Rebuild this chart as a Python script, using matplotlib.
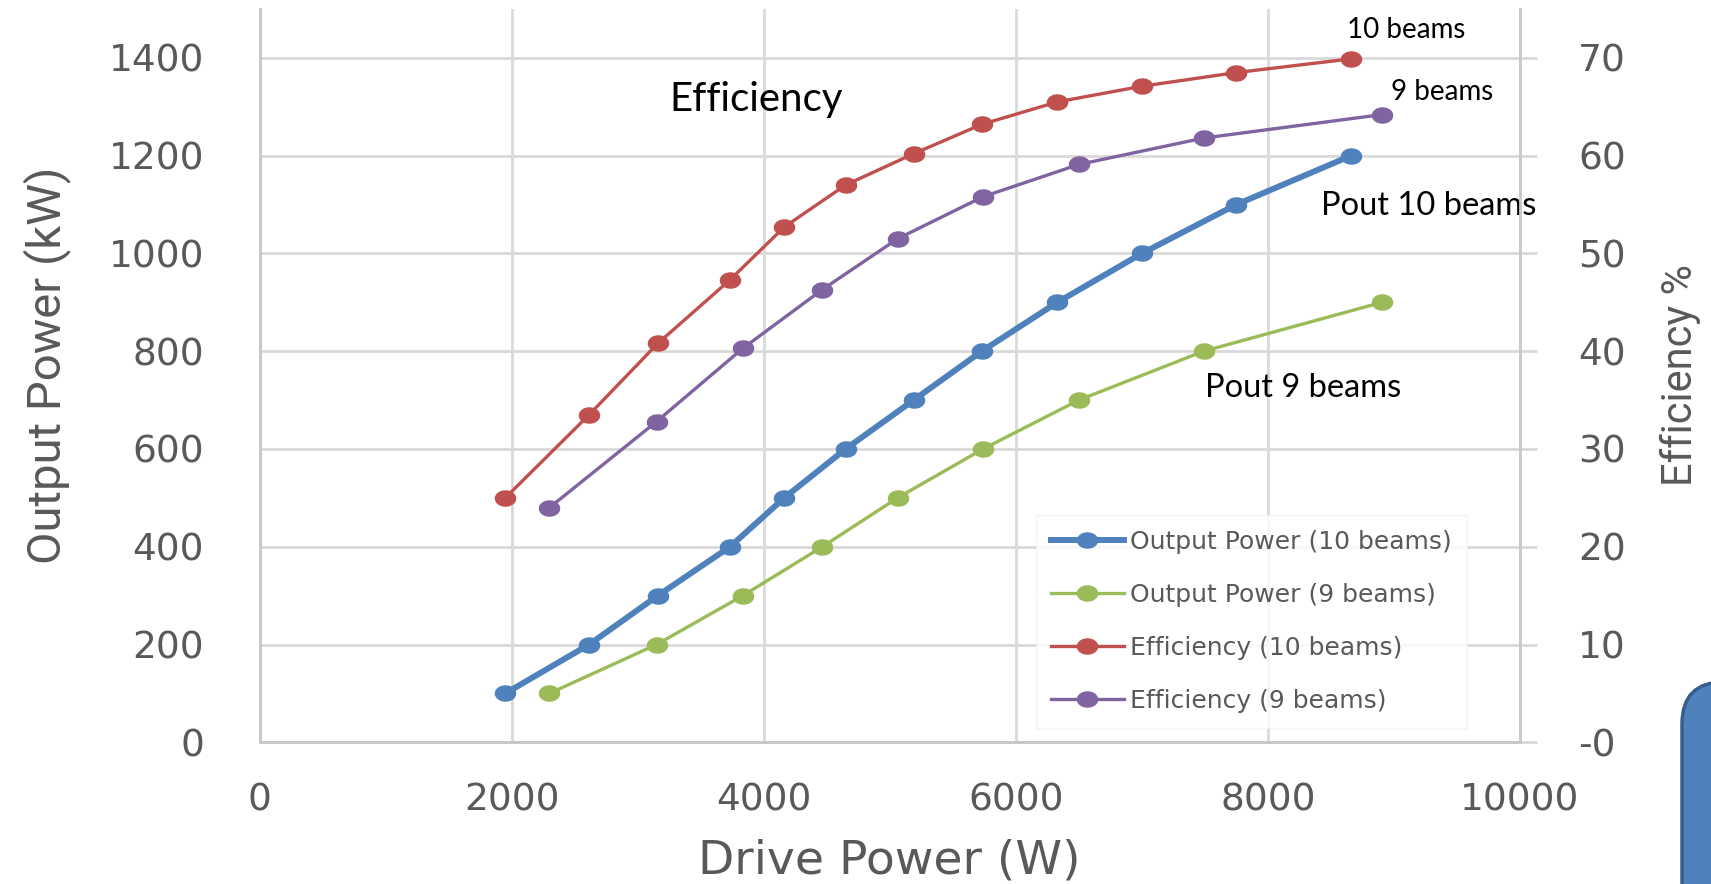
import numpy as np
import matplotlib
matplotlib.use("Agg")
import matplotlib.pyplot as plt
from matplotlib.path import Path
from matplotlib.patches import FancyBboxPatch
from matplotlib.transforms import IdentityTransform

# 测量数据: 驱动功率 (W), 输出功率 (kW), 效率 (%)
drive_10 = [1950, 2615, 3160, 3733, 4163, 4650, 5190, 5730, 6330, 7000, 7750, 8660]
pout_10 = [100, 200, 300, 400, 500, 600, 700, 800, 900, 1000, 1100, 1200]
eff_10 = [25.0, 33.5, 40.8, 47.3, 52.7, 57.0, 60.2, 63.2, 65.5, 67.1, 68.5, 69.9]

drive_9 = [2300, 3150, 3835, 4465, 5062, 5740, 6500, 7490, 8905]
pout_9 = [100, 200, 300, 400, 500, 600, 700, 800, 900]
eff_9 = [24.0, 32.8, 40.3, 46.3, 51.5, 55.8, 59.1, 61.8, 64.2]

x_ticks = [0, 2000, 4000, 6000, 8000, 10000]
pout_ticks = [0, 200, 400, 600, 800, 1000, 1200, 1400]
eff_ticks = [0, 10, 20, 30, 40, 50, 60, 70]
eff_ticklabels = ['-0', '10', '20', '30', '40', '50', '60', '70']

labels = ['Output Power (10 beams)', 'Output Power (9 beams)',
          'Efficiency (10 beams)', 'Efficiency (9 beams)']
colors = ['#4F81BD', '#9BBB59', '#C0504D', '#8064A2']

grey = '#595959'
grid_c = '#D9D9D9'

# 椭圆形标记
theta = np.linspace(0, 2 * np.pi, 41)
ell = Path(np.column_stack([np.cos(theta), 0.75 * np.sin(theta)]), closed=True)

W, H = 1711, 884
fig = plt.figure(figsize=(W / 100, H / 100), dpi=100)
ax = fig.add_axes([259.5 / W, 1 - 742.3 / H, (1520 - 259.5) / W, (742.3 - 9) / H])
ax2 = ax.twinx()

ax.set_xlim(0, 10000)
ax.set_ylim(0, 1500)
ax2.set_ylim(0, 75)

ax.set_xticks(x_ticks)
ax.set_yticks(pout_ticks)
ax2.set_yticks(eff_ticks)
ax2.set_yticklabels(eff_ticklabels)

ax.grid(True, color=grid_c, linewidth=2)
ax.set_axisbelow(True)
for a in (ax, ax2):
    a.spines['top'].set_visible(False)
    for s in ('left', 'right', 'bottom'):
        a.spines[s].set_color('#C8C8C8')
        a.spines[s].set_linewidth(2)
ax.spines['right'].set_visible(False)

ax.tick_params(axis='x', length=0, pad=29, labelsize=27, labelcolor=grey)
ax.tick_params(axis='y', length=0, pad=40, labelsize=27, labelcolor=grey)
ax2.tick_params(axis='y', direction='out', length=12, width=2, color=grid_c,
                pad=30, labelsize=27, labelcolor=grey)

h1, = ax.plot(drive_10, pout_10, color=colors[0], lw=4.3, marker=ell, ms=14.5, label=labels[0])
h2, = ax.plot(drive_9, pout_9, color=colors[1], lw=2.4, marker=ell, ms=14.5, label=labels[1])
h3, = ax2.plot(drive_10, eff_10, color=colors[2], lw=2.4, marker=ell, ms=14.5, label=labels[2])
h4, = ax2.plot(drive_9, eff_9, color=colors[3], lw=2.4, marker=ell, ms=14.5, label=labels[3])

ax.set_xlabel('Drive Power (W)', fontsize=34, color=grey, labelpad=14)
side_font = ['Roboto', 'DejaVu Sans']
fig.text(47 / W, 1 - 365 / H, 'Output Power (kW)', rotation=90, ha='center', va='center',
         fontsize=34, color=grey, family=side_font)
fig.text(1680 / W, 1 - 375 / H, 'Efficiency %', rotation=90, ha='center', va='center',
         fontsize=30, color=grey, family=side_font)

# 曲线标注
note_font = ['Lato', 'DejaVu Sans']
ax.text(3249, 1292, 'Efficiency', fontsize=29, family=note_font, va='baseline')
ax.text(8627, 1441, '10 beams', fontsize=20, family=note_font, va='baseline')
ax.text(8977, 1313, '9 beams', fontsize=20, family=note_font, va='baseline')
ax.text(8421, 1078, 'Pout 10 beams', fontsize=23.5, family=note_font, va='baseline', clip_on=False)
ax.text(7501, 706, 'Pout 9 beams', fontsize=23.5, family=note_font, va='baseline')

leg = ax2.legend(handles=[h1, h2, h3, h4], loc='upper left',
                 bbox_to_anchor=(1036 / W, 1 - 515 / H), bbox_transform=fig.transFigure,
                 fontsize=18, frameon=True, fancybox=False, borderpad=0.6,
                 handlelength=2.9, handletextpad=0.25, labelspacing=1.16,
                 borderaxespad=0)
leg.get_frame().set_edgecolor('#F2F2F2')
leg.get_frame().set_linewidth(1)
for t in leg.get_texts():
    t.set_color(grey)

# 右下角的蓝色圆角框
box = FancyBboxPatch((1682, -40), 120, 884 - 682 + 40,
                     boxstyle='round,pad=0,rounding_size=42',
                     transform=IdentityTransform(), facecolor='#4F81BD',
                     edgecolor='#385D8A', linewidth=2.5)
fig.add_artist(box)

fig.savefig('out.png', dpi=100)
